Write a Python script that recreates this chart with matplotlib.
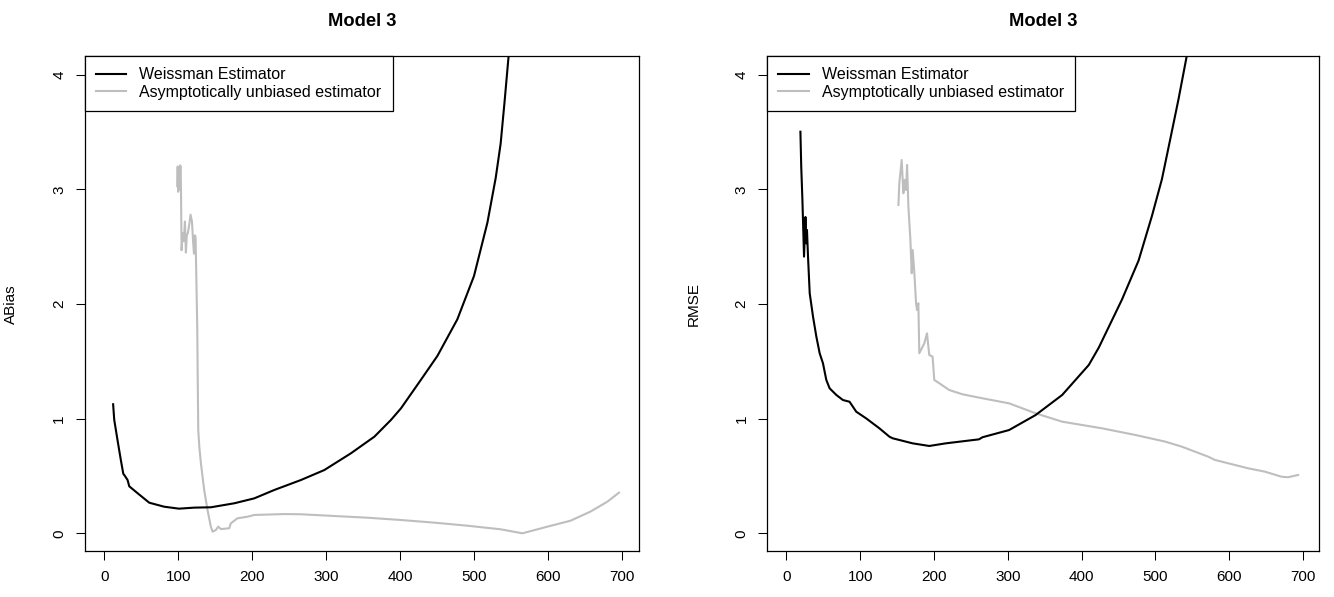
import matplotlib
matplotlib.use("Agg")
import matplotlib.pyplot as plt

plt.rcParams['font.family'] = ['Liberation Sans', 'DejaVu Sans']

# ---------------- data ----------------
titles = ["Model 3", "Model 3"]
ylabels = ["ABias", "RMSE"]
legend_labels = ["Weissman Estimator", "Asymptotically unbiased estimator"]
xticks = [0, 100, 200, 300, 400, 500, 600, 700]
yticks = [0, 1, 2, 3, 4]

abias_w_x = [12, 13.5, 18, 22.4, 25.7, 28, 31.5, 33.8, 45, 60.8, 81, 101, 121.6, 144, 175.7,
             202.7, 229.7, 265.7, 297.3, 333.2, 364.9, 387.3, 400.8, 425.7, 450, 477,
             499.5, 517.6, 528.8, 535.5, 541, 547]
abias_w_y = [1.126, 0.99, 0.81, 0.64, 0.52, 0.50, 0.465, 0.41, 0.35, 0.267, 0.232, 0.215,
             0.224, 0.227, 0.262, 0.305, 0.378, 0.465, 0.552, 0.698, 0.843, 0.989, 1.09,
             1.32, 1.547, 1.867, 2.245, 2.71, 3.10, 3.40, 3.78, 4.22]

abias_u_x = [98.6, 99.2, 99.8, 100.5, 101.5, 102.5, 103.3, 104.5, 106, 107.5, 109, 110.3,
             111.5, 113, 115, 116.6, 118.5, 120, 121.2, 122.5, 123.4, 124.5, 125.7, 126.3,
             127, 128.5, 130.6, 135, 139.6, 144, 146.4, 150.8, 154, 157.6, 168.9, 171, 180,
             193.6, 202.7, 243, 265.7, 310.8, 355.8, 400.8, 446, 491, 535.5, 564.9, 598.6,
             630, 657, 679.7, 695.4]
abias_u_y = [3.03, 3.2, 2.98, 3.19, 3.0, 3.21, 3.2, 2.47, 2.62, 2.55, 2.72, 2.45, 2.6, 2.62,
             2.7, 2.78, 2.72, 2.55, 2.44, 2.6, 2.58, 2.2, 1.77, 1.34, 0.90, 0.75, 0.61, 0.378,
             0.2, 0.058, 0.014, 0.029, 0.058, 0.037, 0.044, 0.087, 0.131, 0.145, 0.16, 0.168,
             0.166, 0.151, 0.136, 0.116, 0.093, 0.066, 0.035, 0.0, 0.058, 0.11, 0.19, 0.276,
             0.355]

rmse_w_x = [18.9, 20, 21.6, 23.8, 25.7, 27, 27.8, 29.2, 31.5, 36, 40.5, 45, 49.5, 54, 58.5,
            67.6, 76.5, 85.5, 94.6, 108, 126, 139.6, 144, 171, 193.6, 216, 261, 265.7, 301.8,
            337.8, 373.8, 409.9, 423.4, 436.9, 454.9, 477.4, 495.5, 509, 520.3, 531.5, 542.7,
            545]
rmse_w_y = [3.504, 3.2, 2.91, 2.414, 2.76, 2.53, 2.647, 2.414, 2.094, 1.89, 1.716, 1.571,
            1.483, 1.338, 1.265, 1.207, 1.163, 1.148, 1.061, 1.003, 0.916, 0.843, 0.829,
            0.785, 0.762, 0.785, 0.82, 0.838, 0.901, 1.032, 1.207, 1.469, 1.62, 1.80,
            2.04, 2.38, 2.769, 3.089, 3.438, 3.787, 4.165, 4.25]

rmse_u_x = [151.8, 153, 156.2, 158.5, 160.3, 162.2, 163.5, 165.3, 168, 169.8, 171.1, 173.4,
            175.7, 177, 178.8, 180.1, 186.9, 190.5, 193.6, 198.1, 200.4, 207.2, 220.7, 238.6,
            265.7, 301.8, 337.8, 373.8, 427.9, 473, 513.5, 536, 572, 581, 626, 648.6, 671,
            680, 693.6]
rmse_u_y = [2.865, 3.054, 3.257, 2.967, 3.083, 2.996, 3.214, 2.85, 2.56, 2.269, 2.472, 2.269,
            2.007, 1.948, 2.007, 1.571, 1.658, 1.745, 1.556, 1.541, 1.338, 1.309, 1.25, 1.213,
            1.178, 1.134, 1.047, 0.974, 0.916, 0.858, 0.80, 0.756, 0.668, 0.64, 0.567, 0.538,
            0.494, 0.489, 0.509]

black = "#000000"
gray = "#BEBEBE"

W, H = 1334, 597
fig = plt.figure(figsize=(W / 100, H / 100), dpi=100)

boxes = [(85, 638.7), (767.3, 1319)]
top_px, bot_px = 56.3, 551.3
series = [((abias_w_x, abias_w_y), (abias_u_x, abias_u_y)),
          ((rmse_w_x, rmse_w_y), (rmse_u_x, rmse_u_y))]

for i, (l, r) in enumerate(boxes):
    ax = fig.add_axes([l / W, 1 - bot_px / H, (r - l) / W, (bot_px - top_px) / H])
    (wx, wy), (ux, uy) = series[i]
    ax.plot(ux, uy, color=gray, lw=1.5, solid_joinstyle='round', label=legend_labels[1], zorder=2)
    ax.plot(wx, wy, color=black, lw=1.5, solid_joinstyle='round', label=legend_labels[0], zorder=3)
    ax.set_xlim(-26, 722)
    ax.set_ylim(-0.157, 4.162)
    ax.set_xticks(xticks)
    ax.set_xticklabels([str(t) for t in xticks])
    ax.set_yticks(yticks)
    ax.set_yticklabels([str(t) for t in yticks], rotation=90, va='center')
    ax.tick_params(direction='out', length=6.5, width=0.75, color='black',
                   labelsize=11, pad=7)
    for s in ax.spines.values():
        s.set_linewidth(0.9)
        s.set_color('black')
    ax.set_title(titles[i], fontsize=13.2, fontweight='bold', pad=22)
    ax.set_ylabel(ylabels[i], fontsize=11)
    ax.yaxis.set_label_coords(-0.1205, 0.5)
    h, lab = ax.get_legend_handles_labels()
    leg = ax.legend([h[1], h[0]], [lab[1], lab[0]], loc='upper left', fontsize=11.5,
                    borderaxespad=0, fancybox=False, framealpha=1, edgecolor='black',
                    handlelength=1.88, handletextpad=0.83, borderpad=0.7,
                    labelspacing=0.15)
    leg.get_frame().set_linewidth(0.9)
    for line in leg.get_lines():
        line.set_linewidth(1.5)

fig.savefig("out.png", dpi=100)
